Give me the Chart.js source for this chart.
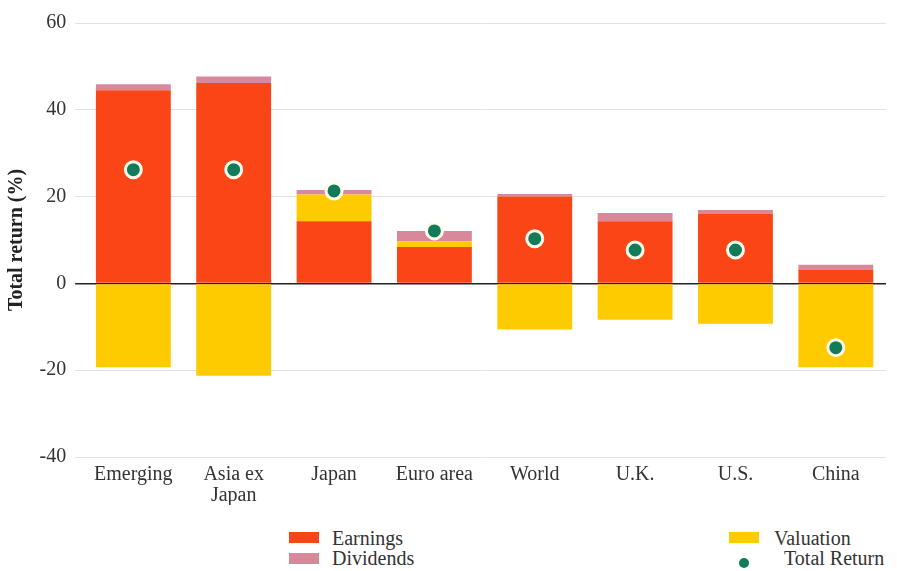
<!DOCTYPE html>
<html>
<head>
<meta charset="utf-8">
<script src="https://cdn.jsdelivr.net/npm/chart.js@4"></script>
<style>
  body { margin: 0; background: #fff; font-family: "Liberation Serif", "DejaVu Serif", serif; }
  #wrap { position: relative; width: 897px; height: 571px; }
  #box { position: absolute; left: 0; top: 0; width: 897px; height: 505px; }
  .lg { position: absolute; font-size: 20px; color: #333; line-height: 20px; white-space: nowrap; }
  .sw { position: absolute; width: 30px; height: 11px; }
  .dot { position: absolute; width: 10px; height: 10px; border-radius: 50%; background: #127c5a; }
</style>
</head>
<body>
<div id="wrap">
  <div id="box"><canvas id="chart"></canvas></div>
  <div class="sw" style="left:289px; top:532px; background:#fa4616"></div>
  <div class="lg" style="left:332px; top:528px">Earnings</div>
  <div class="sw" style="left:289px; top:553px; background:#d8889a"></div>
  <div class="lg" style="left:332px; top:548px">Dividends</div>
  <div class="sw" style="left:729px; top:532px; background:#fecb00"></div>
  <div class="lg" style="left:774px; top:528px">Valuation</div>
  <div class="dot" style="left:739px; top:558px"></div>
  <div class="lg" style="left:784px; top:548px">Total Return</div>
</div>
<script>
// カテゴリ（地域）
const categories = ['Emerging', ['Asia ex', 'Japan'], 'Japan', 'Euro area', 'World', 'U.K.', 'U.S.', 'China'];

// 各要素の寄与 (%)
const earnings  = [44.5, 46.2, 14.3, 8.4, 20.0, 14.3, 16.1, 3.2];
const valuation = [-19.3, -21.3, 6.2, 1.3, -10.6, -8.4, -9.3, -19.3];
const dividends = [1.4, 1.5, 1.0, 2.4, 0.6, 1.9, 0.8, 1.1];
const totalReturn = [26.2, 26.2, 21.3, 12.1, 10.3, 7.7, 7.7, -14.8];

// 目盛り
const yTicks = [-40, -20, 0, 20, 40, 60];

const serif = '"Liberation Serif", "DejaVu Serif", serif';

let ctx = document.getElementById('chart').getContext('2d');
let chart = new Chart(ctx, {
    type: 'bar',
    data: {
        labels: categories,
        datasets: [{
            label: 'Total Return',
            type: 'line',
            data: totalReturn,
            showLine: false,
            stack: 'tr',
            order: 0,
            pointRadius: 8,
            pointHoverRadius: 8,
            pointBackgroundColor: '#127c5a',
            pointBorderColor: '#fffbea',
            pointBorderWidth: 3
        }, {
            label: 'Earnings',
            data: earnings,
            backgroundColor: '#fa4616',
            stack: 'a',
            order: 1
        }, {
            label: 'Valuation',
            data: valuation,
            backgroundColor: '#fecb00',
            stack: 'a',
            order: 1
        }, {
            label: 'Dividends',
            data: dividends,
            backgroundColor: '#d8889a',
            stack: 'a',
            order: 1
        }]
    },
    options: {
        responsive: true,
        maintainAspectRatio: false,
        animation: false,
        layout: { padding: { top: 23, right: 0, left: 4.5, bottom: 0 } },
        plugins: {
            legend: { display: false },
            tooltip: { enabled: false }
        },
        datasets: {
            bar: { barPercentage: 0.746, categoryPercentage: 1.0 }
        },
        scales: {
            x: {
                stacked: true,
                grid: { display: false },
                border: { display: false },
                ticks: {
                    color: '#333',
                    font: { family: serif, size: 20, lineHeight: 1.05 },
                    maxRotation: 0,
                    autoSkip: false,
                    padding: -1
                }
            },
            y: {
                stacked: true,
                min: -40,
                max: 60,
                afterBuildTicks: (axis) => { axis.ticks = yTicks.map(v => ({ value: v })); },
                grid: {
                    color: (c) => c.tick && c.tick.value === 0 ? '#222' : '#e2e2e2',
                    lineWidth: (c) => c.tick && c.tick.value === 0 ? 1.5 : 1,
                    tickLength: 8
                },
                border: { display: false },
                ticks: {
                    color: '#333',
                    font: { family: serif, size: 20 },
                    padding: 9
                },
                title: {
                    display: true,
                    text: 'Total return (%)',
                    color: '#222',
                    font: { family: serif, size: 20, weight: 'bold' },
                    padding: { top: 0, bottom: 2 }
                }
            }
        }
    }
});
</script>
</body>
</html>
